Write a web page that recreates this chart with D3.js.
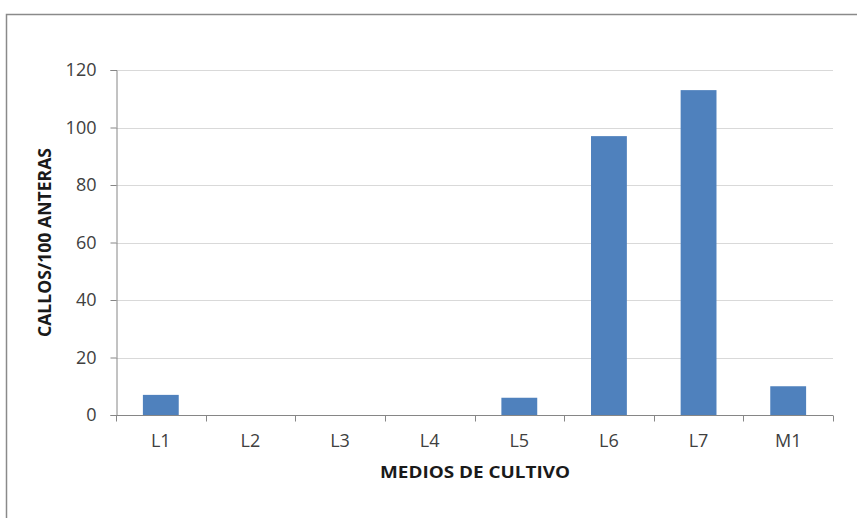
<!DOCTYPE html>
<html>
<head>
<meta charset="utf-8">
<script src="https://cdn.jsdelivr.net/npm/d3@7"></script>
<style>
  html, body { margin: 0; padding: 0; background: #fff; }
  svg { display: block; }
</style>
</head>
<body>
<svg id="chart" width="857" height="518"></svg>
<script>
const categories = ["L1", "L2", "L3", "L4", "L5", "L6", "L7", "M1"];
const values = [7, 0, 0, 0, 6, 97, 113, 10];
const yTicks = [0, 20, 40, 60, 80, 100, 120];
const xTitle = "MEDIOS DE CULTIVO";
const yTitle = "CALLOS/100 ANTERAS";

const svg = d3.select("#chart");
const W = 857, H = 518;
const m = { left: 116, right: 833, top: 70, bottom: 415 };

// outer frame
svg.append("rect")
  .attr("x", 6.5).attr("y", 14.5)
  .attr("width", W).attr("height", H)
  .attr("fill", "none").attr("stroke", "#8a8a8a").attr("stroke-width", 1.5);

const x = d3.scaleBand().domain(categories)
  .range([m.left, m.right]).paddingInner(0.6).paddingOuter(0.3);
const y = d3.scaleLinear().domain([0, 120]).range([m.bottom, m.top]);

// gridlines
svg.append("g").selectAll("line").data(yTicks.filter(d => d > 0)).join("line")
  .attr("x1", m.left).attr("x2", m.right)
  .attr("y1", d => Math.round(y(d)) + 0.5).attr("y2", d => Math.round(y(d)) + 0.5)
  .attr("stroke", "#d9d9d9").attr("stroke-width", 1);

// bars
svg.append("g").selectAll("rect").data(categories.map((c, i) => ({ c, v: values[i] })).filter(d => d.v > 0)).join("rect")
  .attr("x", d => x(d.c))
  .attr("y", d => y(d.v))
  .attr("width", x.bandwidth())
  .attr("height", d => y(0) - y(d.v))
  .attr("fill", "#4f81bd");

// y axis
const yAxis = d3.axisLeft(y).tickValues(yTicks).tickSize(6).tickPadding(14);
const gy = svg.append("g").attr("transform", `translate(${m.left + 0.5},0)`).call(yAxis);
gy.select(".domain").attr("stroke", "#868686");
gy.selectAll(".tick line").attr("stroke", "#868686");
gy.selectAll(".tick text").attr("font-family", "Open Sans").attr("font-size", 18).attr("fill", "#404040");

// x axis with ticks at category boundaries
const xAxis = d3.axisBottom(x).tickSize(0).tickPadding(19);
const gx = svg.append("g").attr("transform", `translate(0,${m.bottom + 0.5})`).call(xAxis);
gx.select(".domain").attr("stroke", "#868686").attr("d", `M${m.left},0H${m.right}`);
gx.selectAll(".tick text").attr("font-family", "Open Sans").attr("font-size", 18).attr("fill", "#404040");
const step = x.step();
const bounds = d3.range(categories.length + 1).map(i => m.left + i * step);
gx.append("g").selectAll("line").data(bounds).join("line")
  .attr("x1", d => Math.round(d) + 0.5).attr("x2", d => Math.round(d) + 0.5)
  .attr("y1", 0).attr("y2", 6)
  .attr("stroke", "#868686");

// axis titles
svg.append("text")
  .attr("x", 475).attr("y", 478)
  .attr("text-anchor", "middle")
  .attr("font-family", "Open Sans").attr("font-weight", "bold").attr("font-size", 16.5)
  .attr("fill", "#1a1a1a")
  .attr("textLength", 190).attr("lengthAdjust", "spacingAndGlyphs")
  .text(xTitle);

svg.append("text")
  .attr("transform", `translate(51,${(m.top + m.bottom) / 2}) rotate(-90)`)
  .attr("text-anchor", "middle")
  .attr("font-family", "Open Sans").attr("font-weight", "bold").attr("font-size", 17)
  .attr("fill", "#1a1a1a")
  .attr("textLength", 189).attr("lengthAdjust", "spacingAndGlyphs")
  .text(yTitle);
</script>
</body>
</html>
